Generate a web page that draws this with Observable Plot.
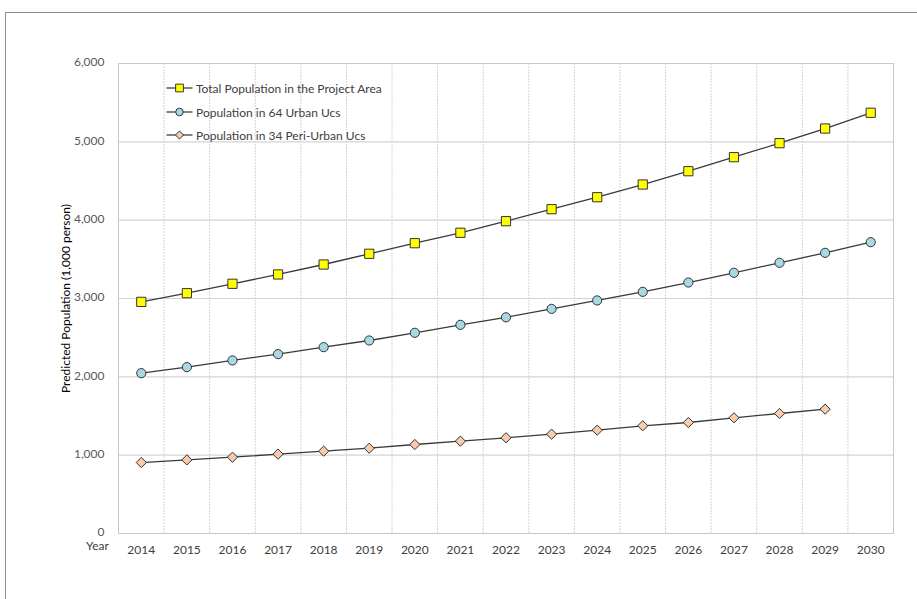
<!DOCTYPE html>
<html><head><meta charset="utf-8">
<script src="https://cdn.jsdelivr.net/npm/d3@7"></script>
<script src="https://cdn.jsdelivr.net/npm/@observablehq/plot@0.6"></script>
<style>
body{margin:0;background:#fff;}
#wrap{position:relative;width:917px;height:599px;overflow:hidden;font-family:Lato, "Open Sans", sans-serif;}
#border{position:absolute;left:5px;top:12px;width:1000px;height:700px;border-top:1px solid #8c8c8c;border-left:1px solid #8c8c8c;}
#chart{position:absolute;left:0;top:0;}
.lg{position:absolute;left:166px;height:16px;display:flex;align-items:center;font-size:12px;color:#404040;white-space:nowrap;}
.lg svg{display:block;margin-right:3px;}
</style>
</head><body>
<div id="wrap"><div id="border"></div><div id="chart"></div><div id="legend"></div></div>
<script>
const years = [2014,2015,2016,2017,2018,2019,2020,2021,2022,2023,2024,2025,2026,2027,2028,2029,2030];
const totalPop = [2957,3068,3188,3307,3434,3571,3706,3839,3987,4140,4293,4455,4625,4804,4983,5170,5371];
const urbanPop = [2047,2124,2209,2290,2379,2464,2562,2664,2760,2868,2975,3085,3204,3328,3456,3583,3719];
const periPop  = [906,940,974,1013,1051,1089,1136,1179,1222,1268,1319,1375,1417,1477,1532,1587];
const yTicks = [0,1000,2000,3000,4000,5000,6000];
const seriesNames = ["Total Population in the Project Area","Population in 64 Urban Ucs","Population in 34 Peri-Urban Ucs"];

const series = [
  {name: seriesNames[0], values: totalPop, symbol: "square", fill: "#ffff00", r: 5.2},
  {name: seriesNames[1], values: urbanPop, symbol: "circle", fill: "#a9d7e3", r: 4.6},
  {name: seriesNames[2], values: periPop, symbol: "diamond2", fill: "#f8cbad", r: 4.6}
];
const rows = series.map(s => s.values.map((v, i) => ({year: years[i], value: v, name: s.name})));
const bounds = years.map(y => y - 0.5).concat([years[years.length-1] + 0.5]);

const marks = [
  Plot.ruleX(bounds.slice(1, -1), {stroke: "#d4d4d4", strokeDasharray: "2,1"}),
  Plot.ruleY(yTicks, {stroke: "#d4d4d4", strokeWidth: 1.2}),
  Plot.frame({stroke: "#c8c8c8"}),
  Plot.axisY(yTicks, {tickSize: 0, tickPadding: 14, tickFormat: d3.format(","), fontSize: 12, fill: "#595959", label: null, dy: -1}),
  Plot.axisX(years, {tickSize: 0, tickPadding: 12, tickFormat: d => String(d), fontSize: 12, fill: "#404040", label: null}),
  Plot.text(["Year"], {frameAnchor: "bottom-left", textAnchor: "middle", dx: -21, dy: 16, fontSize: 12, fill: "#404040"}),
  Plot.text(["Predicted Population (1,000 person)"], {frameAnchor: "left", textAnchor: "middle", rotate: -90, dx: -52, fontSize: 12, fill: "#000"})
];
series.forEach((s, k) => {
  marks.push(Plot.line(rows[k], {x: "year", y: "value", stroke: "#3a3a3a", strokeWidth: 1.3}));
  marks.push(Plot.dot(rows[k], {x: "year", y: "value", symbol: () => s.symbol, r: s.r, fill: s.fill, stroke: "#333", strokeWidth: 1}));
});

const chart = Plot.plot({
  width: 917, height: 599,
  marginLeft: 118, marginRight: 24, marginTop: 63, marginBottom: 66,
  style: {fontFamily: "Lato, 'Open Sans', sans-serif", background: "transparent"},
  x: {type: "linear", domain: [bounds[0], bounds[bounds.length-1]], axis: null},
  y: {domain: [0, 6000], axis: null},
  symbol: {type: "identity"},
  marks
});
document.getElementById("chart").appendChild(chart);

// legend
const legend = document.getElementById("legend");
const rowTops = [80, 104, 127];
series.forEach((s, k) => {
  const div = document.createElement("div");
  div.className = "lg";
  div.style.top = rowTops[k] + "px";
  const svg = d3.create("svg").attr("width", 27).attr("height", 16);
  svg.append("line").attr("x1", 0.5).attr("x2", 26.5).attr("y1", 8).attr("y2", 8).attr("stroke", "#404040").attr("stroke-width", 1.3);
  const sym = s.symbol === "square" ? d3.symbolSquare : s.symbol === "circle" ? d3.symbolCircle : d3.symbolDiamond2;
  const size = s.symbol === "square" ? 60 : s.symbol === "circle" ? 45 : 42;
  svg.append("path").attr("transform", "translate(13.5,8)").attr("d", d3.symbol(sym, size)()).attr("fill", s.fill).attr("stroke", "#333");
  div.appendChild(svg.node());
  div.appendChild(document.createTextNode(s.name));
  legend.appendChild(div);
});
</script>
</body></html>
